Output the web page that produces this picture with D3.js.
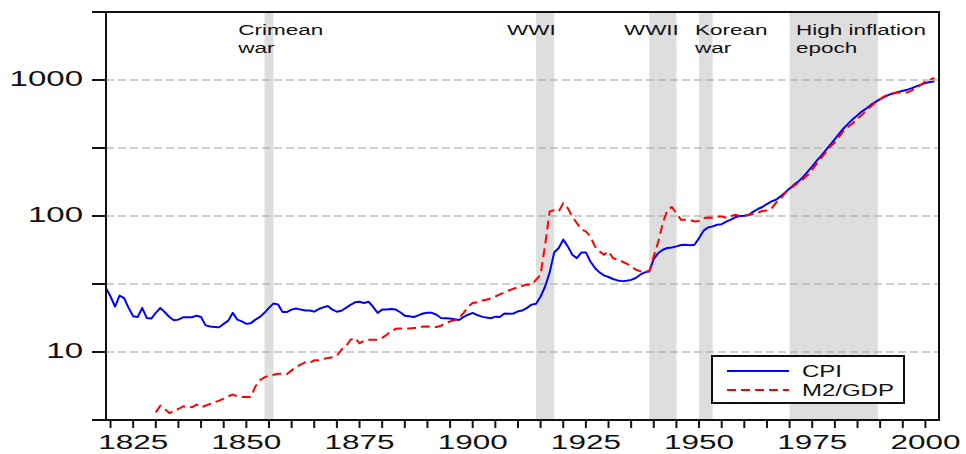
<!DOCTYPE html>
<meta charset="utf-8">
<style type="text/css">
body {
  margin: 0;
  background: #fff;
  font-family: "Liberation Sans", Arial, sans-serif;
}

.grid line {
  stroke: #a0a0a0;
  stroke-width: 1.2px;
  stroke-dasharray: 8,4;
}

.frame {
  fill: none;
  stroke: #111;
  stroke-width: 2px;
}

.axis line {
  stroke: #111;
  stroke-width: 2px;
}

.shade {
  fill: #dedede;
}

.note {
  font-size: 15px;
  fill: #111;
}

.ticklabel {
  font-size: 22px;
  fill: #111;
}

.xlabel {
  font-size: 21px;
}

.legend text {
  font-size: 16px;
  fill: #111;
}
</style>
<body>
<script src="https://d3js.org/d3.v7.min.js"></script>
<script>
// CPI, one value per year from 1819
var cpiStart = 1819;
var cpi = [
  29.5, 25.6, 21.6, 26, 24.9, 21.1, 18.3, 18.1, 21.1, 17.8, 17.6,
  19.4, 21.1, 19.6, 18.1, 17.1, 17.3, 18.0, 18.0, 18.0, 18.5,
  18.1, 15.7, 15.4, 15.3, 15.2, 16.1, 17.0, 19.4, 17.3, 16.8,
  16.1, 16.3, 17.3, 18.1, 19.4, 21.1, 22.7, 22.4, 19.7, 19.7,
  20.5, 20.9, 20.5, 20.2, 20.2, 19.8, 20.7, 21.3, 21.8, 20.5,
  19.8, 20.1, 21.1, 22.2, 23.2, 23.4, 22.9, 23.4, 21.5, 19.4,
  20.5, 20.5, 20.7, 20.5, 19.6, 18.5, 18.3, 18.1, 18.6, 19.2,
  19.4, 19.4, 18.8, 17.8, 17.7, 17.6, 17.4, 17.2, 18.1, 18.8,
  19.4, 18.7, 18.2, 17.9, 17.7, 18.2, 18.1, 19.2, 19.1, 19.2,
  19.9, 20.2, 21.1, 22.3, 22.6, 25.6, 30.3, 38.5, 53.9, 58.2,
  67, 59.8, 51.9, 49, 53.9, 54, 46.3, 41.5, 38.5, 36.6,
  35.6, 34.4, 33.6, 33.2, 33.4, 33.9, 35, 37, 38.5, 39.2,
  48.3, 53.5, 56.5, 58.2, 58.7, 59.8, 61.2, 61.5, 61, 61.5,
  68.8, 78, 82.4, 83.9, 86.3, 87, 90.8, 94, 97.8, 100,
  100.5, 102, 107.7, 112.6, 116.5, 122.5, 128, 131.6, 139.4, 149,
  159, 170, 180, 194, 212, 232, 255, 278, 305, 335,
  368, 405, 444, 480, 517, 550, 588, 620, 658, 690,
  724, 752, 780, 800, 817, 833, 849, 872, 898, 925,
  950, 965, 977
];

// M2/GDP, one value per year from 1830
var m2Start = 1830;
var m2gdp = [
  3.6, 4.03, 3.81, 3.56, 3.66, 3.81, 3.98, 3.98, 3.92, 4.1,
  3.92, 4.03, 4.15, 4.27, 4.39, 4.54, 4.72, 4.86, 4.72, 4.67,
  4.67, 4.67, 5.58, 6.2, 6.5, 6.7, 6.8, 6.92, 6.92, 6.9,
  7.33, 7.76, 8.07, 8.4, 8.3, 8.68, 8.68, 8.88, 9.05, 9.15,
  9.4, 10.4, 11, 12.3, 12.7, 11.6, 12.1, 12.3, 12.3, 12.3,
  12.7, 13.4, 14.2, 14.8, 14.9, 14.9, 14.9, 15, 15, 15.4,
  15.4, 15.3, 15.3, 15.6, 16.3, 16.8, 17.1, 17.8, 19.4, 21.6,
  22.9, 23.2, 23.9, 24.2, 24.8, 25.6, 26.5, 27.4, 28.4, 29.2,
  29.9, 30.7, 31.3, 31.1, 34, 37, 61.5, 108, 110, 108,
  124, 114.5, 99, 88.7, 80.1, 77, 70.8, 59.8, 55, 51.9,
  55, 49, 47.7, 46.3, 44.6, 42.6, 40.3, 39.2, 39.2, 39.2,
  50.5, 65, 88.7, 111, 116.5, 105, 94, 94, 93.5, 91.2,
  92, 96.7, 97.5, 97, 99.3, 99, 97, 100, 102, 100,
  100, 102, 104, 106, 108.7, 110, 113.8, 125, 133, 147.6,
  158, 167, 176, 187, 200, 219, 243, 268, 295, 325,
  348, 385, 426, 455, 483, 520, 556, 600, 640, 685,
  724, 760, 789, 800, 810, 808, 810, 840, 874, 920,
  977, 1005, 1035
];

// shaded episodes
var spanStart = [1854, 1914, 1939, 1950, 1970];
var spanEnd   = [1856, 1918, 1945, 1953, 1989.5];
var spanLabel = [["Crimean", "war"], ["WWI"], ["WWII"], ["Korean", "war"], ["High inflation", "epoch"]];
var labelYear = [1848.2, 1907.6, 1933.4, 1949.1, 1971.4];

var yTickValues = [10, 100, 1000];
var xTickLabels = [1825, 1850, 1875, 1900, 1925, 1950, 1975, 2000];
var seriesNames = ["CPI", "M2/GDP"];

var width = 966, height = 454;
var stretch = 1.5;   // the source picture is wide-stretched

var svg = d3.select("body")
  .append("svg")
    .attr("width", width)
    .attr("height", height);

var xscale = d3.scaleLinear()
  .domain([1819, 2003])
  .range([106, 939]);

var yscale = d3.scaleLog()
  .domain([Math.pow(10, 0.5), Math.pow(10, 3.5)])
  .range([420, 12]);

var x0 = xscale.range()[0], x1 = xscale.range()[1];
var yTop = yscale.range()[1], yBot = yscale.range()[0];

function stretchedText(sel, x, y) {
  return sel.attr("transform", "translate(" + x + "," + y + ") scale(" + stretch + ",1)");
}

// shaded bands
svg.selectAll("rect.shade")
  .data(spanStart)
  .enter().append("rect")
    .attr("class", "shade")
    .attr("x", function(d) { return xscale(d); })
    .attr("y", yTop)
    .attr("width", function(d, i) { return xscale(spanEnd[i]) - xscale(d); })
    .attr("height", yBot - yTop);

// half-decade grid
var gridValues = d3.range(0.5, 3.6, 0.5).map(function(e) { return Math.pow(10, e); });

svg.append("g")
    .attr("class", "grid")
  .selectAll("line")
  .data(gridValues.slice(1, -1))
  .enter().append("line")
    .attr("x1", x0)
    .attr("x2", x1)
    .attr("y1", function(d) { return yscale(d); })
    .attr("y2", function(d) { return yscale(d); });

// lines
var line = d3.line()
  .x(function(d) { return xscale(d.year); })
  .y(function(d) { return yscale(d.v); });

var cpiData = cpi.map(function(v, i) { return { year: cpiStart + i, v: v }; });
var m2Data = m2gdp.map(function(v, i) { return { year: m2Start + i, v: v }; });

svg.append("path")
  .datum(cpiData)
  .attr("fill", "none")
  .attr("stroke", "#0000ff")
  .attr("stroke-width", 2)
  .attr("stroke-linejoin", "round")
  .attr("d", line);

svg.append("path")
  .datum(m2Data)
  .attr("fill", "none")
  .attr("stroke", "#ff0000")
  .attr("stroke-width", 2)
  .attr("stroke-dasharray", "9,5")
  .attr("d", line);

// frame
svg.append("rect")
  .attr("class", "frame")
  .attr("x", x0)
  .attr("y", yTop)
  .attr("width", x1 - x0)
  .attr("height", yBot - yTop);

// y axis ticks and labels
var yAxis = svg.append("g").attr("class", "axis");
yAxis.selectAll("line")
  .data(gridValues)
  .enter().append("line")
    .attr("x1", x0 - 14)
    .attr("x2", x0)
    .attr("y1", function(d) { return yscale(d); })
    .attr("y2", function(d) { return yscale(d); });

yAxis.selectAll("text")
  .data(yTickValues)
  .enter().append("text")
    .attr("class", "ticklabel")
    .attr("text-anchor", "end")
    .each(function(d) { stretchedText(d3.select(this), 83, yscale(d) + 6); })
    .text(function(d) { return d; });

// x axis ticks and labels
var xAxis = svg.append("g").attr("class", "axis");
xAxis.selectAll("line")
  .data(d3.range(1820, 2001, 5))
  .enter().append("line")
    .attr("x1", function(d) { return xscale(d); })
    .attr("x2", function(d) { return xscale(d); })
    .attr("y1", yBot)
    .attr("y2", yBot + 8);

xAxis.selectAll("text")
  .data(xTickLabels)
  .enter().append("text")
    .attr("class", "ticklabel xlabel")
    .attr("text-anchor", "middle")
    .each(function(d) { stretchedText(d3.select(this), xscale(d), 449); })
    .text(function(d) { return d; });

// episode labels
spanLabel.forEach(function(lines, i) {
  lines.forEach(function(t, j) {
    svg.append("text")
      .attr("class", "note")
      .call(stretchedText, xscale(labelYear[i]), 35 + j * 17.5)
      .text(t);
  });
});

// legend
var legend = svg.append("g")
  .attr("class", "legend")
  .attr("transform", "translate(712,356)");

legend.append("rect")
  .attr("width", 192)
  .attr("height", 47)
  .attr("fill", "#fff")
  .attr("stroke", "#111")
  .attr("stroke-width", 2);

var entries = legend.selectAll("g.entry")
  .data(seriesNames)
  .enter().append("g")
    .attr("class", "entry")
    .attr("transform", function(d, i) { return "translate(0," + (15 + i * 19) + ")"; });

entries.append("line")
  .attr("x1", 15)
  .attr("x2", 77)
  .attr("stroke", function(d, i) { return i ? "#ff0000" : "#0000ff"; })
  .attr("stroke-width", 2)
  .attr("stroke-dasharray", function(d, i) { return i ? "9,5" : null; });

entries.append("text")
  .each(function(d) { stretchedText(d3.select(this), 90, 6); })
  .text(function(d) { return d; });
</script>
</body>
